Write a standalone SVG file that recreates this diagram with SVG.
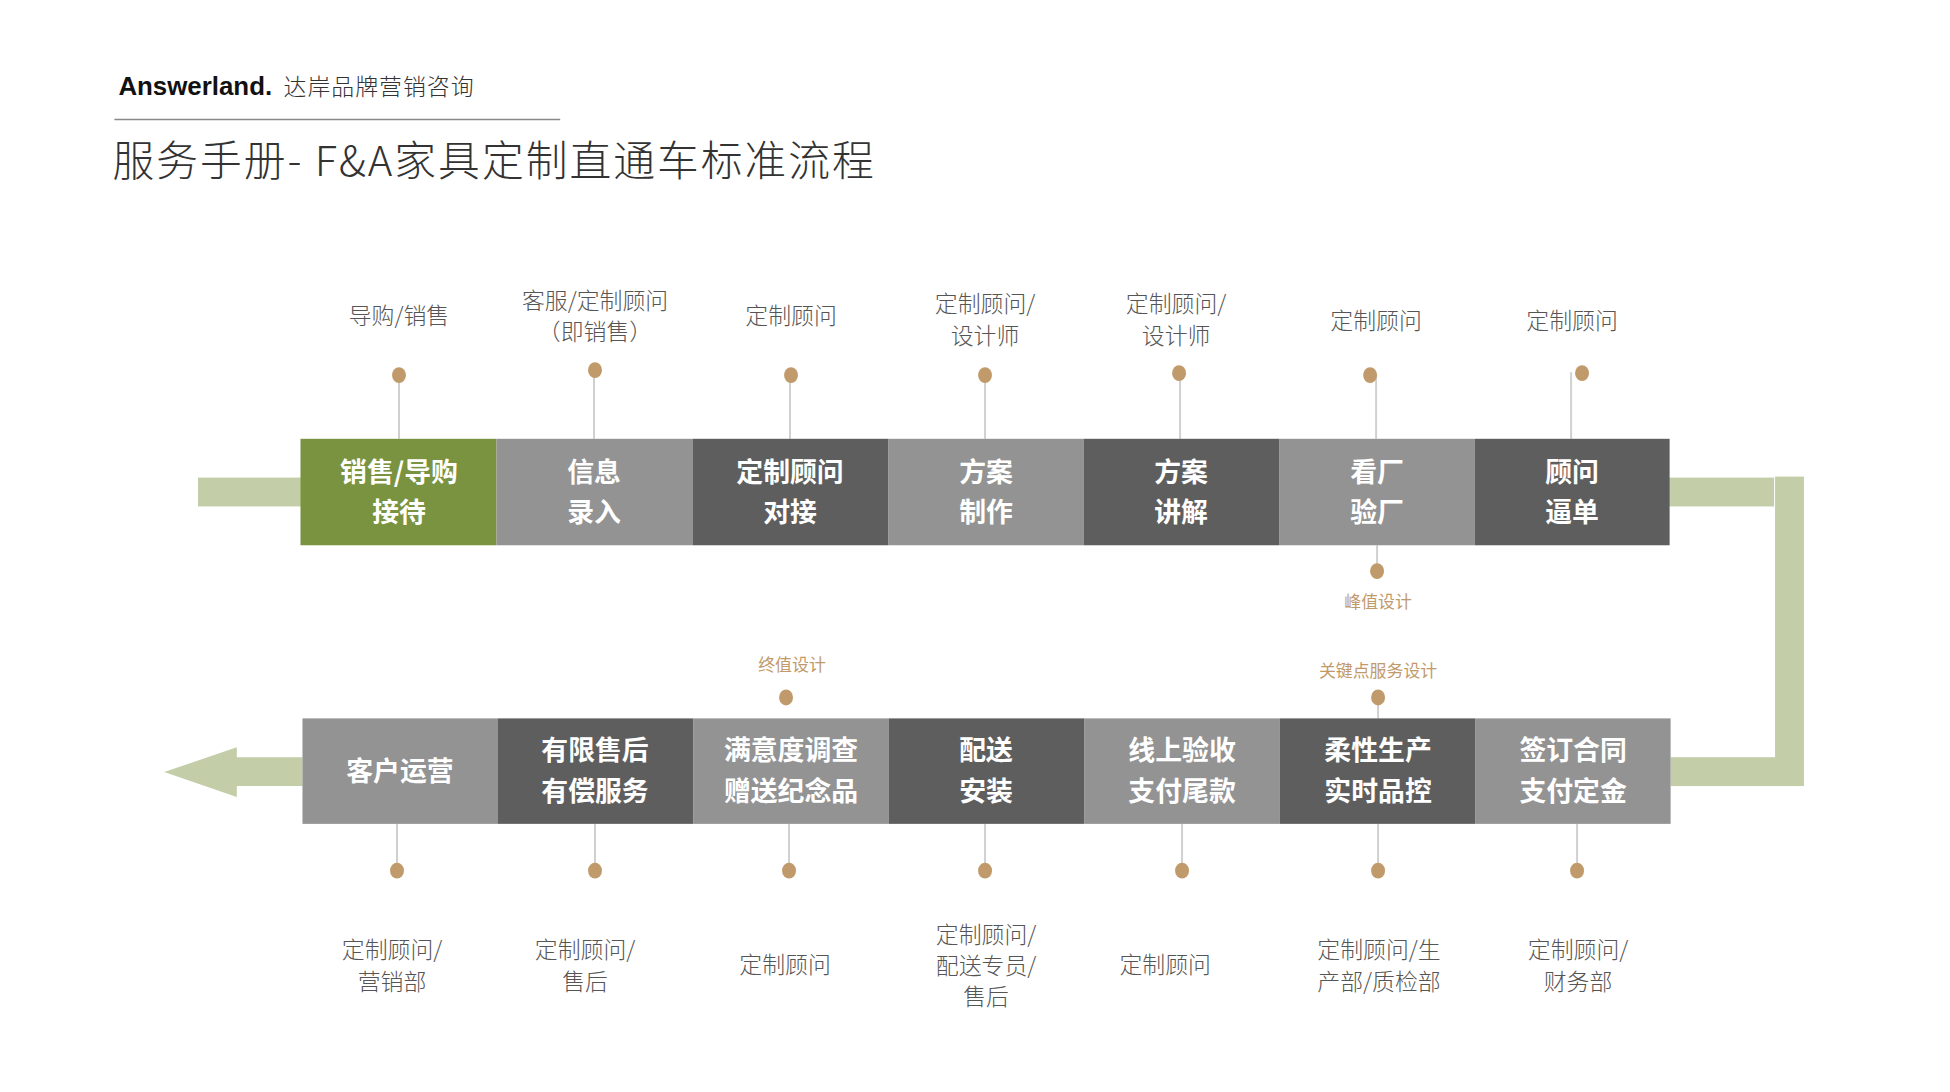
<svg xmlns="http://www.w3.org/2000/svg" width="1950" height="1092" viewBox="0 0 1950 1092">
<style>
text{font-family:"Noto Sans CJK SC","Noto Sans",sans-serif}
.lab{font-size:23px;fill:#555;font-weight:300;text-anchor:middle}
.bx{font-size:27px;fill:#fff;font-weight:700;text-anchor:middle}
.hl{font-size:17px;fill:#c19a6b;text-anchor:middle}
.g{fill:#7a9340}.l{fill:#939393}.d{fill:#5e5e5e}
.bar{fill:#c3cda8}
.dot{fill:#c19a6b}
.ln{stroke:#d0d0d0;stroke-width:2}
</style>
<rect width="1950" height="1092" fill="#fff"/>
<g transform="scale(0.995)">
<g id="header">
<text x="119" y="95" font-weight="700" font-size="26" fill="#111" style="font-family:'Liberation Sans',sans-serif">Answerland.</text>
<text x="285" y="95" font-size="23" font-weight="300" fill="#333" letter-spacing="1">达岸品牌营销咨询</text>
<line x1="115" y1="120" x2="563" y2="120" stroke="#888" stroke-width="1.5"/>
<text x="113" y="177" font-size="42" font-weight="300" fill="#333" letter-spacing="2">服务手册- F&amp;A家具定制直通车标准流程</text>
</g>
<g id="connectors">
<rect class="bar" x="199" y="480" width="104" height="29"/>
<rect class="bar" x="1677" y="480" width="106" height="29"/>
<rect class="bar" x="1784" y="479" width="29" height="311"/>
<rect class="bar" x="1679" y="761" width="106" height="29"/>
<polygon class="bar" points="165,776 238,751 238,761 304,761 304,790 238,790 238,801"/>
<g class="ln">
<line x1="401" y1="376" x2="401" y2="441"/><line x1="597" y1="370" x2="597" y2="441"/><line x1="794" y1="376" x2="794" y2="441"/><line x1="990" y1="376" x2="990" y2="441"/><line x1="1186" y1="374" x2="1186" y2="441"/><line x1="1383" y1="376" x2="1383" y2="441"/><line x1="1579" y1="374" x2="1579" y2="441"/>
<line x1="1384" y1="548" x2="1384" y2="574"/><line x1="1385" y1="701" x2="1385" y2="722"/>
<line x1="399" y1="828" x2="399" y2="875"/><line x1="598" y1="828" x2="598" y2="875"/><line x1="793" y1="828" x2="793" y2="875"/><line x1="990" y1="828" x2="990" y2="875"/><line x1="1188" y1="828" x2="1188" y2="875"/><line x1="1385" y1="828" x2="1385" y2="875"/><line x1="1585" y1="828" x2="1585" y2="875"/>
</g>
<g class="dot">
<ellipse cx="401" cy="377" rx="7" ry="8"/><ellipse cx="598" cy="372" rx="7" ry="8"/><ellipse cx="795" cy="377" rx="7" ry="8"/><ellipse cx="990" cy="377" rx="7" ry="8"/><ellipse cx="1185" cy="375" rx="7" ry="8"/><ellipse cx="1377" cy="377" rx="7" ry="8"/><ellipse cx="1590" cy="375" rx="7" ry="8"/>
<ellipse cx="1384" cy="574" rx="7" ry="8"/><ellipse cx="1385" cy="701" rx="7" ry="8"/><ellipse cx="790" cy="701" rx="7" ry="8"/>
<ellipse cx="399" cy="875" rx="7" ry="8"/><ellipse cx="598" cy="875" rx="7" ry="8"/><ellipse cx="793" cy="875" rx="7" ry="8"/><ellipse cx="990" cy="875" rx="7" ry="8"/><ellipse cx="1188" cy="875" rx="7" ry="8"/><ellipse cx="1385" cy="875" rx="7" ry="8"/><ellipse cx="1585" cy="875" rx="7" ry="8"/>
</g>
</g>
<g id="top-labels">
<text class="lab" x="401" y="326">导购/销售</text>
<text class="lab" x="598" y="311">客服/定制顾问</text><text class="lab" x="598" y="342">（即销售）</text>
<text class="lab" x="795" y="326">定制顾问</text>
<text class="lab" x="990" y="314">定制顾问/</text><text class="lab" x="990" y="346">设计师</text>
<text class="lab" x="1182" y="314">定制顾问/</text><text class="lab" x="1182" y="346">设计师</text>
<text class="lab" x="1383" y="331">定制顾问</text>
<text class="lab" x="1580" y="331">定制顾问</text>
</g>
<g id="top-row">
<g id="n1"><rect class="g" x="302" y="441" width="197" height="107"/><text class="bx" x="401" y="484">销售/导购</text><text class="bx" x="401" y="525">接待</text></g>
<g id="n2"><rect class="l" x="499" y="441" width="197" height="107"/><text class="bx" x="597" y="484">信息</text><text class="bx" x="597" y="525">录入</text></g>
<g id="n3"><rect class="d" x="696" y="441" width="197" height="107"/><text class="bx" x="794" y="484">定制顾问</text><text class="bx" x="794" y="525">对接</text></g>
<g id="n4"><rect class="l" x="893" y="441" width="196" height="107"/><text class="bx" x="991" y="484">方案</text><text class="bx" x="991" y="525">制作</text></g>
<g id="n5"><rect class="d" x="1089" y="441" width="197" height="107"/><text class="bx" x="1187" y="484">方案</text><text class="bx" x="1187" y="525">讲解</text></g>
<g id="n6"><rect class="l" x="1286" y="441" width="196" height="107"/><text class="bx" x="1384" y="484">看厂</text><text class="bx" x="1384" y="525">验厂</text></g>
<g id="n7"><rect class="d" x="1482" y="441" width="196" height="107"/><text class="bx" x="1580" y="484">顾问</text><text class="bx" x="1580" y="525">逼单</text></g>
</g>
<g id="highlights">
<text class="hl" x="1385" y="611">峰值设计</text>
<text class="hl" x="1385" y="680">关键点服务设计</text>
<text class="hl" x="796" y="674">终值设计</text>
</g>
<g id="bottom-row">
<g id="m1"><rect class="l" x="304" y="722" width="196" height="106"/><text class="bx" x="402" y="785">客户运营</text></g>
<g id="m2"><rect class="d" x="500" y="722" width="197" height="106"/><text class="bx" x="598" y="764">有限售后</text><text class="bx" x="598" y="805">有偿服务</text></g>
<g id="m3"><rect class="l" x="697" y="722" width="196" height="106"/><text class="bx" x="795" y="764">满意度调查</text><text class="bx" x="795" y="805">赠送纪念品</text></g>
<g id="m4"><rect class="d" x="893" y="722" width="197" height="106"/><text class="bx" x="991" y="764">配送</text><text class="bx" x="991" y="805">安装</text></g>
<g id="m5"><rect class="l" x="1090" y="722" width="196" height="106"/><text class="bx" x="1188" y="764">线上验收</text><text class="bx" x="1188" y="805">支付尾款</text></g>
<g id="m6"><rect class="d" x="1286" y="722" width="197" height="106"/><text class="bx" x="1385" y="764">柔性生产</text><text class="bx" x="1385" y="805">实时品控</text></g>
<g id="m7"><rect class="l" x="1483" y="722" width="196" height="106"/><text class="bx" x="1581" y="764">签订合同</text><text class="bx" x="1581" y="805">支付定金</text></g>
</g>
<g id="bottom-labels">
<text class="lab" x="394" y="963">定制顾问/</text><text class="lab" x="394" y="995">营销部</text>
<text class="lab" x="588" y="963">定制顾问/</text><text class="lab" x="588" y="995">售后</text>
<text class="lab" x="789" y="978">定制顾问</text>
<text class="lab" x="991" y="948">定制顾问/</text><text class="lab" x="991" y="979">配送专员/</text><text class="lab" x="991" y="1010">售后</text>
<text class="lab" x="1171" y="978">定制顾问</text>
<text class="lab" x="1386" y="963">定制顾问/生</text><text class="lab" x="1386" y="995">产部/质检部</text>
<text class="lab" x="1586" y="963">定制顾问/</text><text class="lab" x="1586" y="995">财务部</text>
</g>
</g>
</svg>
